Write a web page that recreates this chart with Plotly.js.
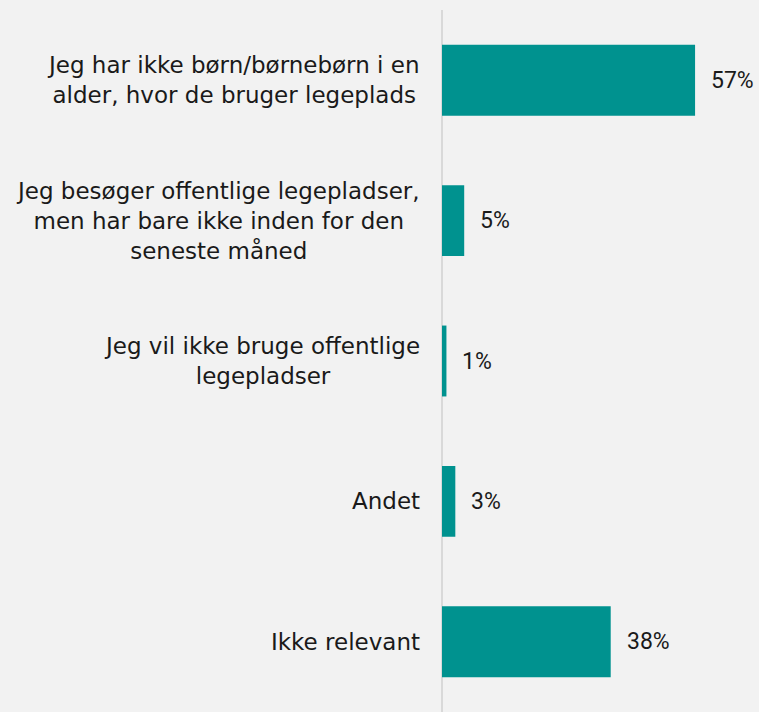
<!DOCTYPE html>
<html>
<head>
<meta charset="utf-8">
<script src="https://cdn.plot.ly/plotly-3.0.1.min.js"></script>
<style>
html,body{margin:0;padding:0;background:#f2f2f2;}
#chart{width:759px;height:712px;}
</style>
</head>
<body>
<div id="chart"></div>
<script>
const categories = [
  "Jeg har ikke børn/børnebørn i en<br>alder, hvor de bruger legeplads",
  "Jeg besøger offentlige legepladser,<br>men har bare ikke inden for den<br>seneste måned",
  "Jeg vil ikke bruge offentlige<br>legepladser",
  "Andet",
  "Ikke relevant"
];
const values = [57, 5, 1, 3, 38];
const valueLabels = ["57%", "5%", "1%", "3%", "38%"];

const LABEL_FONT = "'DejaVu Sans', sans-serif";
const VALUE_FONT = "Roboto, 'DejaVu Sans', sans-serif";
const TEXT_COLOR = "#1a1a1a";
const BAR_COLOR = "#00928f";

const trace = {
  type: "bar",
  orientation: "h",
  y: categories,
  x: values,
  marker: {color: BAR_COLOR},
  hoverinfo: "none"
};

const annotations = [];
categories.forEach((c, i) => {
  annotations.push({
    xref: "paper", yref: "y", x: 0, y: c,
    xanchor: "right", yanchor: "middle", xshift: -20,
    align: "center", showarrow: false,
    text: c,
    font: {family: LABEL_FONT, size: 23, color: TEXT_COLOR}
  });
  annotations.push({
    xref: "x", yref: "y", x: values[i], y: c,
    xanchor: "left", yanchor: "middle", xshift: 14,
    showarrow: false,
    text: valueLabels[i],
    font: {family: VALUE_FONT, size: 23, color: TEXT_COLOR}
  });
});

const layout = {
  width: 759, height: 712,
  margin: {l: 442, r: 0, t: 10, b: 0, pad: 0},
  paper_bgcolor: "#f2f2f2",
  plot_bgcolor: "#f2f2f2",
  bargap: 0.495,
  showlegend: false,
  xaxis: {
    range: [0, 71.4], showgrid: false, showticklabels: false,
    zeroline: true, zerolinecolor: "#d9d9d9", zerolinewidth: 2,
    showline: false, fixedrange: true
  },
  yaxis: {
    autorange: "reversed", showticklabels: false, showgrid: false,
    zeroline: false, showline: false, fixedrange: true
  },
  annotations: annotations
};

Plotly.newPlot("chart", [trace], layout, {displayModeBar: false, staticPlot: true});
</script>
</body>
</html>
